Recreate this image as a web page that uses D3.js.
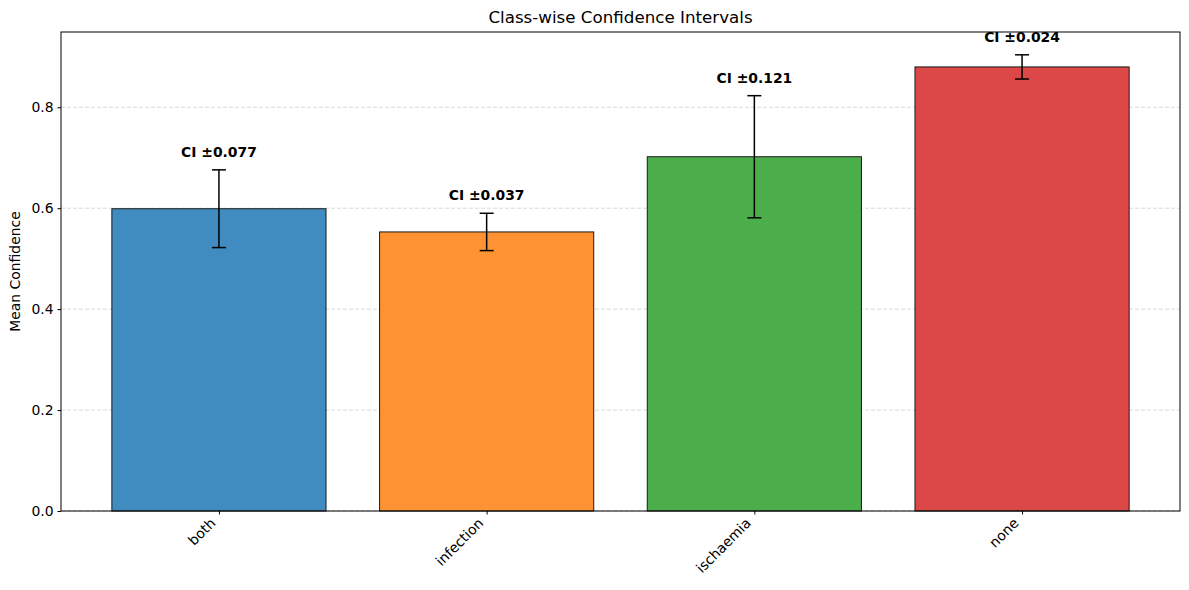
<!DOCTYPE html>
<html>
<head>
<meta charset="utf-8">
<title>Class-wise Confidence Intervals</title>
<script src="https://cdnjs.cloudflare.com/ajax/libs/d3/7.8.5/d3.min.js"></script>
<style>
  body { margin: 0; background: #fff; }
  svg { font-family: "DejaVu Sans", sans-serif; }
</style>
</head>
<body>
<div id="chart"></div>
<script>
// data
var classes = ['both', 'infection', 'ischaemia', 'none'];
var means = [0.599, 0.553, 0.702, 0.880];
var cis = [0.077, 0.037, 0.121, 0.024];
var colors = ['#408bbf', '#ff9232', '#4bae4b', '#dc4748'];
var yTicks = [0.0, 0.2, 0.4, 0.6, 0.8];

var W = 1189, H = 590;
var m = {left: 61, right: 9, top: 32, bottom: 79};
var iw = W - m.left - m.right, ih = H - m.top - m.bottom;
var fs = '13.9px';

var svg = d3.select('#chart').append('svg')
	.attr('width', W)
	.attr('height', H);

var g = svg.append('g').attr('transform', 'translate(' + m.left + ',' + m.top + ')');

// x like matplotlib: positions 0..n-1, bar width 0.8, 5% margins
var n = classes.length;
var lo = -0.4, hi = n - 1 + 0.4, pad = (hi - lo) * 0.05;
var x = d3.scaleLinear().domain([lo - pad, hi + pad]).range([0, iw]);
var ymax = d3.max(means.map(function(d, i){ return d + cis[i]; }));
var y = d3.scaleLinear().domain([0, ymax * 1.05]).range([ih, 0]);

// grid
g.selectAll('line.grid')
	.data(yTicks)
	.enter().append('line')
	.attr('class', 'grid')
	.attr('x1', 0).attr('x2', iw)
	.attr('y1', function(d){ return y(d); })
	.attr('y2', function(d){ return y(d); })
	.attr('stroke', '#b0b0b0')
	.attr('stroke-opacity', 0.6)
	.attr('stroke-width', 0.8)
	.attr('stroke-dasharray', '4,2');

// bars
g.selectAll('rect.bar')
	.data(means)
	.enter().append('rect')
	.attr('class', 'bar')
	.attr('x', function(d, i){ return x(i - 0.4); })
	.attr('width', function(d, i){ return x(i + 0.4) - x(i - 0.4); })
	.attr('y', function(d){ return y(d); })
	.attr('height', function(d){ return y(0) - y(d); })
	.attr('fill', function(d, i){ return colors[i]; })
	.attr('stroke', '#1a1a1a')
	.attr('stroke-width', 1);

// error bars
var eb = g.selectAll('g.err')
	.data(means)
	.enter().append('g')
	.attr('class', 'err');
eb.append('line')
	.attr('x1', function(d, i){ return x(i); })
	.attr('x2', function(d, i){ return x(i); })
	.attr('y1', function(d, i){ return y(d - cis[i]); })
	.attr('y2', function(d, i){ return y(d + cis[i]); })
	.attr('stroke', '#000').attr('stroke-width', 1.5);
[-1, 1].forEach(function(s){
	eb.append('line')
		.attr('x1', function(d, i){ return x(i) - 7; })
		.attr('x2', function(d, i){ return x(i) + 7; })
		.attr('y1', function(d, i){ return y(d + s * cis[i]); })
		.attr('y2', function(d, i){ return y(d + s * cis[i]); })
		.attr('stroke', '#000').attr('stroke-width', 1.5);
});

// CI labels
g.selectAll('text.ci')
	.data(means)
	.enter().append('text')
	.attr('class', 'ci')
	.attr('x', function(d, i){ return x(i); })
	.attr('y', function(d, i){ return y(d + cis[i] + 0.02) - 3; })
	.attr('text-anchor', 'middle')
	.attr('font-size', fs)
	.attr('font-weight', 'bold')
	.text(function(d, i){ return 'CI \u00b1' + cis[i].toFixed(3); });

// axes
var yAxis = d3.axisLeft(y).tickValues(yTicks).tickFormat(d3.format('.1f')).tickSizeOuter(0).tickSize(3.5).tickPadding(4);
var yg = g.append('g').call(yAxis);
yg.select('.domain').remove();
yg.selectAll('text').attr('font-size', fs).attr('fill', '#000').style('font-family', '"DejaVu Sans", sans-serif');

var xAxis = d3.axisBottom(x).tickValues(d3.range(n)).tickFormat(function(d){ return classes[d]; }).tickSizeOuter(0).tickSize(3.5);
var xg = g.append('g').attr('transform', 'translate(0,' + ih + ')').call(xAxis);
xg.select('.domain').remove();
xg.selectAll('text')
	.attr('font-size', fs)
	.attr('fill', '#000')
	.style('font-family', '"DejaVu Sans", sans-serif')
	.attr('text-anchor', 'end')
	.attr('dy', null)
	.attr('y', 0)
	.attr('transform', 'translate(-3,13) rotate(-45)');

// frame
g.append('rect')
	.attr('x', 0).attr('y', 0)
	.attr('width', iw).attr('height', ih)
	.attr('fill', 'none')
	.attr('stroke', '#000')
	.attr('stroke-width', 1);

// title and y label
svg.append('text')
	.attr('x', m.left + iw / 2)
	.attr('y', 23)
	.attr('text-anchor', 'middle')
	.attr('font-size', '16.7px')
	.text('Class-wise Confidence Intervals');

svg.append('text')
	.attr('transform', 'translate(20,' + (m.top + ih / 2) + ') rotate(-90)')
	.attr('text-anchor', 'middle')
	.attr('font-size', fs)
	.text('Mean Confidence');
</script>
</body>
</html>
